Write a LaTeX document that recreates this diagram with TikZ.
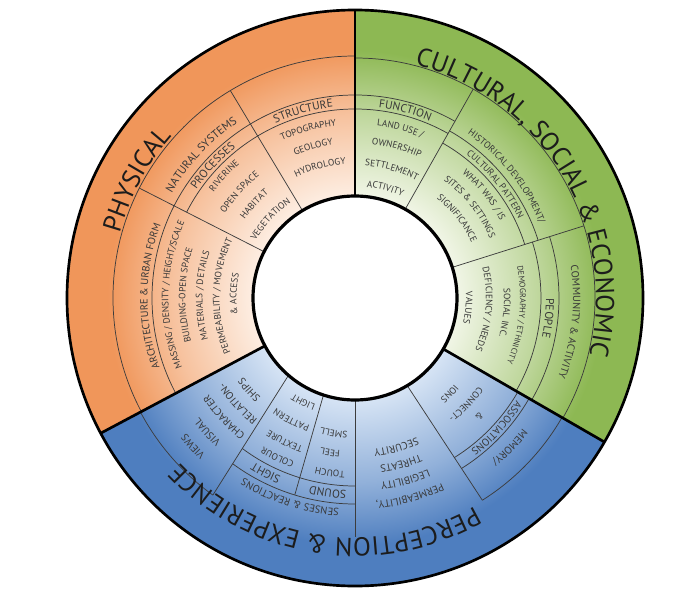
\documentclass[tikz,border=0pt]{standalone}
\usepackage{fontspec}
\setmainfont{PT Sans}
\usetikzlibrary{decorations.text}

\definecolor{physout}{HTML}{F0965A}
\definecolor{physin}{HTML}{FDEDE1}
\definecolor{cultout}{HTML}{8DB853}
\definecolor{cultin}{HTML}{F0F5E5}
\definecolor{percout}{HTML}{4E7EBF}
\definecolor{percin}{HTML}{D5E3F4}
\definecolor{rulegray}{HTML}{3C3C3C}
\definecolor{labeltext}{HTML}{383838}
\definecolor{titletext}{HTML}{1C1C1C}

\pgfdeclareradialshading{physshade}{\pgfpoint{0bp}{0bp}}{color(0bp)=(physin); color(9bp)=(physin); color(16bp)=(physout!50!physin); color(21.5bp)=(physout); color(50bp)=(physout)}
\pgfdeclareradialshading{cultshade}{\pgfpoint{0bp}{0bp}}{color(0bp)=(cultin); color(9bp)=(cultin); color(16bp)=(cultout!50!cultin); color(21.5bp)=(cultout); color(50bp)=(cultout)}
\pgfdeclareradialshading{percshade}{\pgfpoint{0bp}{0bp}}{color(0bp)=(percin); color(9bp)=(percin); color(16bp)=(percout!50!percin); color(21.5bp)=(percout); color(50bp)=(percout)}

\newcommand{\titlefont}{\fontsize{19.5}{21}\selectfont\color{titletext}}
\newcommand{\bandfont}{\fontsize{8.6}{9}\selectfont\color{labeltext}}
\newcommand{\midfont}{\fontsize{7.8}{8}\selectfont\color{labeltext}}
\newcommand{\smallfont}{\fontsize{7}{8}\selectfont\color{labeltext}}
\newcommand{\tinyfont}{\fontsize{6.2}{7}\selectfont\color{labeltext}}

\tikzstyle{border}=[line width=2pt, black]
\tikzstyle{rule}=[line width=0.55pt, rulegray]

\newcommand{\ringlabel}[4]{\path[decorate,decoration={text along path,text align=center,text={|#1|#4}}] ({#3+70}:#2) arc[start angle={#3+70},end angle={#3-70},radius=#2];}

\begin{document}
\begin{tikzpicture}[x=0.75pt,y=0.75pt]
\useasboundingbox (-355,-302) rectangle (340,298);

\begin{scope}
\clip (0,0) -- (90:300) arc[start angle=90,end angle=208,radius=300] -- cycle;
\shade[shading=physshade] (0,0) circle (288);
\end{scope}
\begin{scope}
\clip (0,0) -- (-30:300) arc[start angle=-30,end angle=90,radius=300] -- cycle;
\shade[shading=cultshade] (0,0) circle (288);
\end{scope}
\begin{scope}
\clip (0,0) -- (208:300) arc[start angle=208,end angle=330,radius=300] -- cycle;
\shade[shading=percshade] (0,0) circle (288);
\end{scope}

\draw[rule] (90:242) arc[start angle=90,end angle=208,radius=242];
\draw[rule] (90:203) arc[start angle=90,end angle=208,radius=203];
\draw[rule] (90:189) arc[start angle=90,end angle=153,radius=189];
\draw[rule] (121:102) -- (121:242);
\draw[rule] (153:102) -- (153:242);

\draw[rule] (90:240) arc[start angle=90,end angle=-30,radius=240];
\draw[rule] (90:203) arc[start angle=90,end angle=60.5,radius=203];
\draw[rule] (90:189) arc[start angle=90,end angle=60.5,radius=189];
\draw[rule] (60.5:102) -- (60.5:240);
\draw[rule] (60.5:192) arc[start angle=60.5,end angle=17.5,radius=192];
\draw[rule] (60.5:178) arc[start angle=60.5,end angle=17.5,radius=178];
\draw[rule] (17.5:102) -- (17.5:240);
\draw[rule] (17.5:204) arc[start angle=17.5,end angle=-30,radius=204];
\draw[rule] (17.5:186) arc[start angle=17.5,end angle=-30,radius=186];

\draw[rule] (208:243) arc[start angle=208,end angle=234.2,radius=243];
\draw[rule] (229.3:102) -- (234.2:243);
\draw[rule] (233.55:206) arc[start angle=233.55,end angle=270,radius=206];
\draw[rule] (233.15:188) arc[start angle=233.15,end angle=270,radius=188];
\draw[rule] (252:102) -- (253:206);
\draw[rule] (270:102) -- (270:239);
\draw[rule] (300.8:102) -- (302.2:239);
\draw[rule] (301.9:188) arc[start angle=301.9,end angle=330,radius=188];
\draw[rule] (302:201) arc[start angle=302,end angle=330,radius=201];
\draw[rule] (302.2:239) arc[start angle=302.2,end angle=330,radius=239];

\ringlabel{\titlefont}{244}{151.5}{PHYSICAL}
\ringlabel{\bandfont}{211}{137}{NATURAL SYSTEMS}
\ringlabel{\bandfont}{192}{137}{PROCESSES}
\ringlabel{\bandfont}{192}{105.5}{STRUCTURE}
\ringlabel{\smallfont}{173.5}{105.5}{TOPOGRAPHY}
\ringlabel{\smallfont}{154.5}{105.5}{GEOLOGY}
\ringlabel{\smallfont}{134}{105}{HYDROLOGY}
\ringlabel{\smallfont}{176.5}{137}{RIVERINE}
\ringlabel{\smallfont}{155}{137.5}{OPEN SPACE}
\ringlabel{\smallfont}{135.5}{137}{HABITAT}
\ringlabel{\smallfont}{114.5}{137}{VEGETATION}
\ringlabel{\midfont}{207.5}{179.5}{ARCHITECTURE {\&} URBAN FORM}
\ringlabel{\smallfont}{186.5}{179}{MASSING / DENSITY / HEIGHT/SCALE}
\ringlabel{\smallfont}{169.5}{179}{BUILDING-OPEN SPACE}
\ringlabel{\smallfont}{152.5}{179}{MATERIALS / DETAILS}
\ringlabel{\smallfont}{135.5}{179}{PERMEABILITY / MOVEMENT}
\ringlabel{\smallfont}{118.5}{178}{{\&} ACCESS}

\ringlabel{\titlefont}{241}{31}{CULTURAL, SOCIAL {\&} ECONOMIC}
\ringlabel{\bandfont}{192}{75}{FUNCTION}
\ringlabel{\smallfont}{173.5}{75}{LAND USE /}
\ringlabel{\smallfont}{154.5}{74.5}{OWNERSHIP}
\ringlabel{\smallfont}{132.5}{74}{SETTLEMENT}
\ringlabel{\smallfont}{111.5}{74.5}{ACTIVITY}
\ringlabel{\smallfont}{199}{38.7}{HISTORICAL DEVELOPMENT/}
\ringlabel{\smallfont}{181.5}{39}{CULTURAL PATTERN}
\ringlabel{\smallfont}{164.5}{38.7}{WHAT WAS / IS}
\ringlabel{\smallfont}{147.5}{38.4}{SITES {\&} SETTINGS}
\ringlabel{\smallfont}{129}{38}{SIGNIFICANCE}
\ringlabel{\midfont}{218}{-6.4}{COMMUNITY {\&} ACTIVITY}
\ringlabel{\bandfont}{191}{-6}{PEOPLE}
\ringlabel{\tinyfont}{165}{-6}{DEMOGRAPHY / ETHNICITY}
\ringlabel{\smallfont}{149}{-5.5}{SOCIAL INC.}
\ringlabel{\smallfont}{131}{-5}{DEFICIENCY / NEEDS}
\ringlabel{\smallfont}{111}{-5}{VALUES}

\ringlabel{\titlefont}{240}{261.5}{PERCEPTION {\&} EXPERIENCE}
\ringlabel{\midfont}{216.5}{222.5}{VIEWS}
\ringlabel{\midfont}{196.5}{222.3}{VISUAL}
\ringlabel{\midfont}{175}{222.3}{CHARACTER}
\ringlabel{\midfont}{155.5}{222}{RELATION-}
\ringlabel{\midfont}{137}{221}{SHIPS}
\ringlabel{\midfont}{211.5}{252}{SENSES {\&} REACTIONS}
\ringlabel{\bandfont}{193}{243}{SIGHT}
\ringlabel{\smallfont}{174.5}{244}{COLOUR}
\ringlabel{\smallfont}{157}{243.8}{TEXTURE}
\ringlabel{\smallfont}{135.5}{242.5}{PATTERN}
\ringlabel{\smallfont}{113.5}{243.5}{LIGHT}
\ringlabel{\bandfont}{193}{262}{SOUND}
\ringlabel{\smallfont}{173.5}{261.8}{TOUCH}
\ringlabel{\smallfont}{153.5}{260.8}{FEEL}
\ringlabel{\smallfont}{133.5}{261}{SMELL}
\ringlabel{\midfont}{204.5}{285.5}{PERMEABILITY,}
\ringlabel{\midfont}{186.5}{285.5}{LEGIBILITY}
\ringlabel{\midfont}{169.5}{285.5}{THREATS}
\ringlabel{\midfont}{152.5}{285.5}{SECURITY}
\ringlabel{\midfont}{212.5}{316}{MEMORY/}
\ringlabel{\midfont}{191}{317.5}{ASSOCIATIONS}
\ringlabel{\smallfont}{168.5}{316.4}{{\&}}
\ringlabel{\smallfont}{151.5}{316.3}{CONNECT-}
\ringlabel{\smallfont}{131.5}{314.7}{IONS}

\draw[border] (0,0) circle (288);
\draw[border] (90:102) -- (90:288);
\draw[border] (208:102) -- (208:288);
\draw[border] (330:102) -- (330:288);
\fill[white] (0,0) circle (102);
\draw[border, line width=2.4pt] (0,0) circle (102);
\end{tikzpicture}
\end{document}
